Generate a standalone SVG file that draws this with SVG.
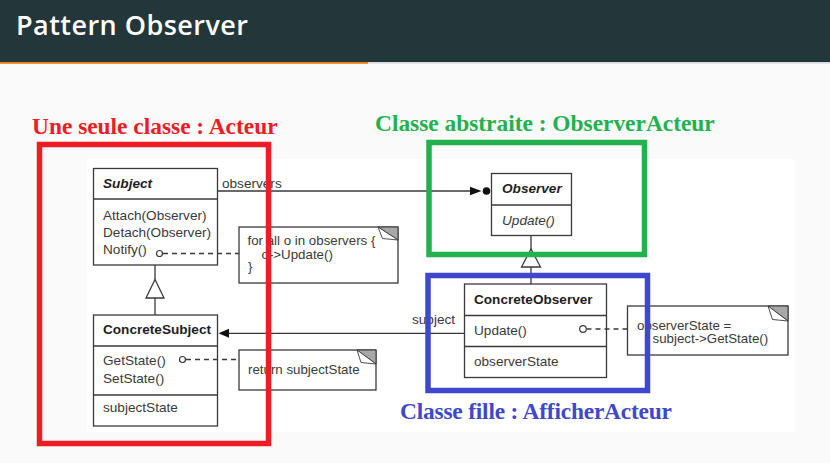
<svg xmlns="http://www.w3.org/2000/svg" width="830" height="463" viewBox="0 0 830 463">
<defs>
<style>
.box{fill:#fff;stroke:#3a3a3a;stroke-width:1.3}
.div{stroke:#3a3a3a;stroke-width:1.3}
.t{font-family:"Liberation Sans",Arial,sans-serif;font-size:13.6px;fill:#3a3a3a}
.n{font-size:13.3px}
.b{font-weight:bold;fill:#1e1e1e}
.i{font-style:italic}
.ln{stroke:#3a3a3a;stroke-width:1.3;fill:none}
.dash{stroke:#3a3a3a;stroke-width:1.3;stroke-dasharray:5 4;fill:none}
.dot{fill:#fff;stroke:#3a3a3a;stroke-width:1.2}
.fold{fill:#a8a8a8;stroke:#3a3a3a;stroke-width:1}
.flap{fill:#fff;stroke:#3a3a3a;stroke-width:0.9}
.lbl{font-family:"Liberation Serif","Times New Roman",serif;font-weight:bold;font-size:23.4px}
.frame{fill:none;stroke-width:5.5}
</style>
</defs>
<rect x="0" y="0" width="830" height="463" fill="#fafafa"/>
<g id="titlebar">
<rect x="0" y="0" width="830" height="62" fill="#23373b"/>
<rect x="0" y="62" width="830" height="1.6" fill="#d8d8d8"/>
<rect x="0" y="62" width="368" height="1.8" fill="#eb811b"/>
<text x="16" y="35" font-family="'Open Sans',Lato,sans-serif" font-weight="600" font-size="27" fill="#ffffff" textLength="232">Pattern Observer</text>
</g>
<rect x="87" y="159" width="708" height="273" fill="#ffffff"/>
<g id="subject">
<rect class="box" x="93.5" y="168.5" width="124" height="96.5"/>
<line class="div" x1="93.5" y1="199" x2="217.5" y2="199"/>
<text class="t b i" x="103" y="188">Subject</text>
<text class="t" x="103" y="220">Attach(Observer)</text>
<text class="t" x="103" y="237">Detach(Observer)</text>
<text class="t" x="103" y="254">Notify()</text>
</g>
<g id="concreteSubject">
<rect class="box" x="93.5" y="315" width="124" height="111"/>
<line class="div" x1="93.5" y1="346" x2="217.5" y2="346"/>
<line class="div" x1="93.5" y1="395" x2="217.5" y2="395"/>
<text class="t b" x="103" y="334">ConcreteSubject</text>
<text class="t" x="103" y="365">GetState()</text>
<text class="t" x="103" y="383">SetState()</text>
<text class="t" x="103" y="412">subjectState</text>
</g>
<g id="observer">
<rect class="box" x="491.5" y="173.5" width="80" height="62"/>
<line class="div" x1="491.5" y1="205" x2="571.5" y2="205"/>
<text class="t b i" x="502" y="193">Observer</text>
<text class="t i" x="502" y="225">Update()</text>
</g>
<g id="concreteObserver">
<rect class="box" x="464.5" y="284" width="142" height="93.5"/>
<line class="div" x1="464.5" y1="315.5" x2="606.5" y2="315.5"/>
<line class="div" x1="464.5" y1="346.5" x2="606.5" y2="346.5"/>
<text class="t b" x="474" y="304">ConcreteObserver</text>
<text class="t" x="474" y="335">Update()</text>
<text class="t" x="474" y="366">observerState</text>
</g>
<g id="noteNotify">
<rect class="box" x="239" y="227" width="159" height="56"/>
<polygon class="fold" points="378,227 398,227 398,240"/>
<polygon class="flap" points="378,227 382.5,238.5 398,240"/>
<text class="t n" x="247.5" y="245">for all o in observers {</text>
<text class="t n" x="261.5" y="259">o->Update()</text>
<text class="t n" x="248" y="271">}</text>
</g>
<g id="noteGetState">
<rect class="box" x="239" y="350" width="137" height="40"/>
<polygon class="fold" points="357,350 376,350 376,364"/>
<polygon class="flap" points="357,350 361,362.5 376,364"/>
<text class="t n" x="248" y="374">return subjectState</text>
</g>
<g id="noteUpdate">
<rect class="box" x="627.5" y="306" width="160.5" height="49"/>
<polygon class="fold" points="768,306 788,306 788,321"/>
<polygon class="flap" points="768,306 772.5,319.5 788,321"/>
<text class="t n" x="637" y="329.5">observerState =</text>
<text class="t n" x="652.5" y="343">subject->GetState()</text>
</g>
<g id="connectors">
<line class="ln" x1="217.5" y1="191" x2="471" y2="191"/>
<polygon points="470,186.8 481.5,191 470,195.2" fill="#111"/>
<circle cx="486.5" cy="191" r="3.8" fill="#111"/>
<line class="ln" x1="464.5" y1="333.3" x2="228" y2="333.3"/>
<polygon points="218.5,333.3 229,328.8 229,337.8" fill="#111"/>
<line class="ln" x1="155" y1="265" x2="155" y2="279.5"/>
<polygon class="box" points="155,279.5 146,298 164,298"/>
<line class="ln" x1="155" y1="298" x2="155" y2="315"/>
<line class="ln" x1="531" y1="235.5" x2="531" y2="249"/>
<polygon class="box" points="531,249 521.5,267 540.5,267"/>
<line class="ln" x1="531" y1="267" x2="531" y2="284"/>
<line class="dash" x1="163" y1="253.5" x2="239" y2="253.5"/>
<circle class="dot" cx="159.5" cy="253.5" r="3"/>
<line class="dash" x1="186" y1="359.5" x2="239" y2="359.5"/>
<circle class="dot" cx="182.5" cy="359.5" r="3"/>
<line class="dash" x1="586.5" y1="329" x2="627.5" y2="329"/>
<circle class="dot" cx="583" cy="329" r="3.3"/>
<text class="t" x="222" y="188">observers</text>
<text class="t" x="412" y="324">subject</text>
</g>
<g id="actor">
<rect class="frame" x="39.5" y="144.5" width="229" height="299" stroke="#ee1c25"/>
<text class="lbl" x="32" y="133.5" fill="#ee1c25">Une seule classe : Acteur</text>
</g>
<g id="observerActeur">
<rect class="frame" x="429" y="142.5" width="215.5" height="112" stroke="#22b14c"/>
<text class="lbl" x="375" y="130.5" fill="#22b14c">Classe abstraite : ObserverActeur</text>
</g>
<g id="afficherActeur">
<rect class="frame" x="428" y="275.5" width="219.5" height="115" stroke="#3f48cc"/>
<text class="lbl" x="400" y="419" fill="#3f48cc" textLength="272">Classe fille : AfficherActeur</text>
</g>
</svg>
